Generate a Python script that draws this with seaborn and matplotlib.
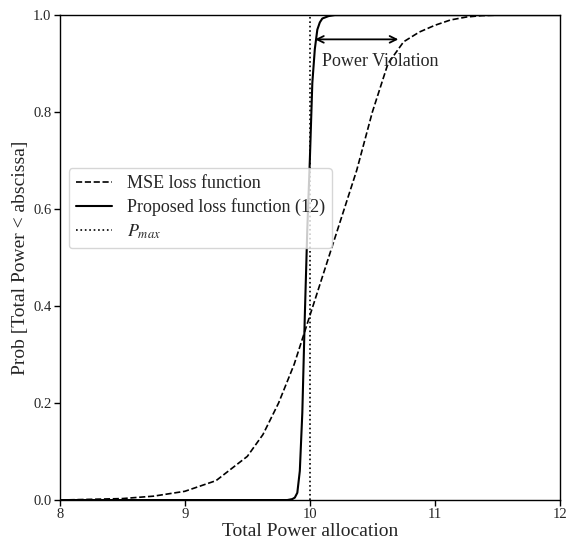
import matplotlib
matplotlib.use("Agg")
import matplotlib.pyplot as plt
import seaborn as sns
import pandas as pd

# MSE loss function CDF
mse_x = [8.0, 8.5, 8.75, 9.0, 9.25, 9.5, 9.625, 9.75, 9.875, 10.0, 10.125, 10.25, 10.375, 10.5, 10.625, 10.75, 10.875, 11.0, 11.125, 11.25, 11.375, 11.5, 12.0]
mse_y = [0.0, 0.003, 0.008, 0.018, 0.04, 0.09, 0.135, 0.2, 0.28, 0.38, 0.48, 0.58, 0.68, 0.80, 0.90, 0.945, 0.965, 0.979, 0.99, 0.996, 0.999, 1.0, 1.0]

# Proposed loss function (12) CDF
prop_x = [8.0, 9.82, 9.86, 9.88, 9.9, 9.92, 9.94, 9.96, 9.98, 10.0, 10.02, 10.04, 10.06, 10.08, 10.1, 10.15, 10.2, 12.0]
prop_y = [0.0, 0.0, 0.002, 0.005, 0.015, 0.06, 0.18, 0.38, 0.56, 0.70, 0.86, 0.93, 0.97, 0.985, 0.993, 0.998, 1.0, 1.0]

p_max = 10.0

sns.set_theme(style="ticks")
plt.rcParams['font.family'] = ['Liberation Serif', 'DejaVu Serif']
plt.rcParams['mathtext.fontset'] = 'stix'

fig = plt.figure(figsize=(5.69, 5.40), dpi=100)
ax = fig.add_axes([0.105, 0.074, 0.879, 0.898])

df_mse = pd.DataFrame({"x": mse_x, "y": mse_y})
df_prop = pd.DataFrame({"x": prop_x, "y": prop_y})

sns.lineplot(data=df_mse, x="x", y="y", ax=ax, color="black", linestyle="--", linewidth=1.2, label="MSE loss function")
sns.lineplot(data=df_prop, x="x", y="y", ax=ax, color="black", linestyle="-", linewidth=1.5, label="Proposed loss function (12)")
ax.axvline(p_max, color="black", linestyle=":", linewidth=1.2, label="$P_{max}$")

ax.annotate("", xy=(10.02, 0.95), xytext=(10.73, 0.95),
            arrowprops=dict(arrowstyle="<->", color="black", lw=1.3))
ax.text(10.1, 0.905, "Power Violation", fontsize=13, ha="left", va="center")

ax.set_xlim(8, 12)
ax.set_ylim(0, 1)
ax.set_xticks([8, 9, 10, 11, 12])
ax.set_yticks([0.0, 0.2, 0.4, 0.6, 0.8, 1.0])
ax.set_xticklabels(["8", "9", "10", "11", "12"])
ax.set_yticklabels(["0.0", "0.2", "0.4", "0.6", "0.8", "1.0"])
ax.tick_params(labelsize=10.5, direction="out", length=4, width=1, color="black", pad=2)
ax.set_xlabel("Total Power allocation", fontsize=14, labelpad=1)
ax.set_ylabel("Prob [Total Power < abscissa]", fontsize=14, labelpad=3)
for s in ax.spines.values():
    s.set_color("black")
    s.set_linewidth(1.0)

leg = ax.legend(loc="center left", bbox_to_anchor=(0.018, 0.602), borderaxespad=0, fontsize=13,
                frameon=True, handlelength=2.0, borderpad=0.4, labelspacing=0.35)
leg.get_frame().set_edgecolor("#cccccc")

fig.savefig("out.png", dpi=100)
